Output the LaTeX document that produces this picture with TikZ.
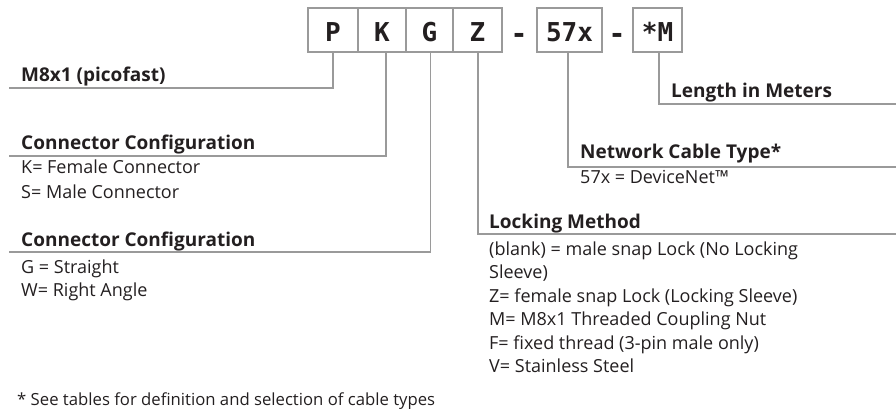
\documentclass[tikz,border=0pt]{standalone}
\usepackage{fontspec}
\setmainfont{Open Sans}
\newfontfamily\codefont{DejaVu Sans Mono}
\definecolor{linegray}{HTML}{9A9A9A}
\definecolor{ink}{HTML}{231F20}
\begin{document}
\begin{tikzpicture}[x=1pt,y=-1pt,
  codebox/.style={draw=linegray,line width=1.6pt,minimum height=44pt,inner sep=0pt,
    text height=24pt,text depth=0pt,
    font=\codefont\bfseries\fontsize{26}{26}\selectfont,text=ink},
  sep/.style={anchor=center,inner sep=0pt,font=\codefont\bfseries\fontsize{28}{28}\selectfont,text=ink},
  conn/.style={draw=linegray,line width=1.8pt},
  title/.style={anchor=base west,inner sep=0pt,font=\bfseries\fontsize{19}{19}\selectfont,text=ink},
  body/.style={anchor=base west,inner sep=0pt,font=\fontsize{18}{18}\selectfont,text=ink},
  note/.style={anchor=base west,inner sep=0pt,font=\fontsize{16.7}{17}\selectfont,text=ink}]
\useasboundingbox (0,0) rectangle (896,414);
% code boxes
\node[codebox,minimum width=50pt] (P) at (333,30) {P};
\node[codebox,minimum width=48pt] (K) at (382,30) {K};
\node[codebox,minimum width=47pt] (G) at (429.5,30) {G};
\node[codebox,minimum width=49pt] (Z) at (477.5,30) {Z};
\node[sep] (d1) at (519,38) {-};
\node[codebox,minimum width=65pt] (C) at (569.5,30) {57x};
\node[sep] (d2) at (617,38) {-};
\node[codebox,minimum width=49pt] (L) at (657.5,30) {*M};
% end coordinates
\coordinate (pe) at (9,88);
\coordinate (ke) at (9,156);
\coordinate (ge) at (9,252);
\coordinate (ze) at (896,234);
\coordinate (ce) at (896,167);
\coordinate (le) at (896,104);
\draw[conn] ([xshift=0pt]P.south) |- (pe);
\draw[conn] ([xshift=4pt]K.south) |- (ke);
\draw[conn] ([xshift=1pt]G.south) |- (ge);
\draw[conn] ([xshift=0.5pt]Z.south) |- (ze);
\draw[conn] ([xshift=-1.5pt]C.south) |- (ce);
\draw[conn] ([xshift=1.5pt]L.south) |- (le);
% texts
\node[title] (t1) at (21,82) {M8x1 (picofast)};
\node[title] (t2) at (21,150) {Connector Configuration};
\node[body] (k1) at (21,174) {K= Female Connector};
\node[body] (k2) at (21,198) {S= Male Connector};
\node[title] (t3) at (21,246) {Connector Configuration};
\node[body] (g1) at (21,273) {G = Straight};
\node[body] (g2) at (21,296) {W= Right Angle};
\node[title] (t4) at (671,98) {Length in Meters};
\node[title] (t5) at (580,159) {Network Cable Type*};
\node[body] (c1) at (580,184) {57x = DeviceNet™};
\node[title] (t6) at (489,228) {Locking Method};
\node[body] (z1) at (489,255) {(blank) = male snap Lock (No Locking};
\node[body] (z2) at (489,278) {Sleeve)};
\node[body] (z3) at (489,302) {Z= female snap Lock (Locking Sleeve)};
\node[body] (z4) at (489,325) {M= M8x1 Threaded Coupling Nut};
\node[body] (z5) at (489,349) {F= fixed thread (3-pin male only)};
\node[body] (z6) at (489,372) {V= Stainless Steel};
\node[note] (fn) at (17,405) {* See tables for definition and selection of cable types};
\end{tikzpicture}
\end{document}
